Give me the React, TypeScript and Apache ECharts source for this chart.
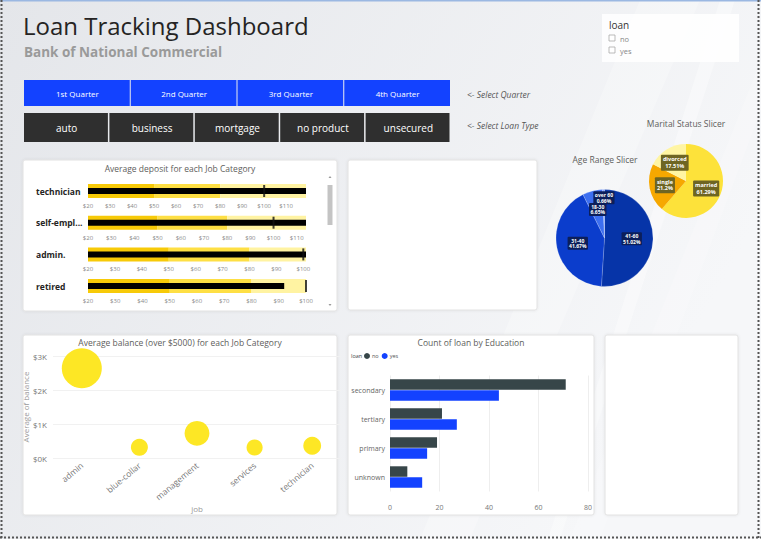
import React, { useEffect, useRef } from 'react';
import * as echarts from 'echarts';

const FONT = "'Open Sans', 'Noto Sans', sans-serif";

const quarters = ['1st Quarter', '2nd Quarter', '3rd Quarter', '4th Quarter'];
const loanTypes = ['auto', 'business', 'mortgage', 'no product', 'unsecured'];
const loanOptions = ['no', 'yes'];

// bullet chart: average deposit per job
const bulletJobs = ['technician', 'self-employed', 'admin.', 'retired'];
const depositActual = [119, 114, 101, 92];
const depositTarget = [100, 100, 100, 100];
const depositBands = [50, 80];

const ageRanges = ['41-60', '31-40', '18-30', 'over 60'];
const agePercent = [51.02, 41.67, 6.65, 0.66];

const maritalStatus = ['married', 'single', 'divorced'];
const maritalPercent = [61.29, 21.2, 17.51];

const balanceJobs = ['admin', 'blue-collar', 'management', 'services', 'technician'];
const avgBalance = [2640, 315, 725, 310, 360];
const balanceCount = [160, 29, 62, 26, 32];

const educations = ['secondary', 'tertiary', 'primary', 'unknown'];
const loanNo = [71, 21, 19, 7];
const loanYes = [44, 27, 15, 13];

const BLUE = '#1342ff';
const ageColors = ['#0634a8', '#0b3dcc', '#3d6ff0', '#86a5ff'];
const maritalColors = ['#fde23a', '#f6a800', '#fff5a3'];

function panel(x: number, y: number, w: number, h: number) {
  return {
    type: 'rect',
    shape: { x, y, width: w, height: h, r: 2 },
    style: { fill: '#ffffff', stroke: '#e2e2e2', lineWidth: 1, shadowBlur: 3, shadowColor: 'rgba(0,0,0,0.08)' },
  };
}

function label(text: string, x: number, y: number, extra: any = {}) {
  return {
    type: 'text',
    x,
    y,
    style: {
      text,
      fontFamily: FONT,
      fontSize: 8.5,
      fill: '#605e5c',
      textAlign: 'center',
      textVerticalAlign: 'middle',
      ...extra,
    },
  };
}

function buildGraphics() {
  const g: any[] = [];
  g.push({
    type: 'rect',
    shape: { x: 0, y: 0, width: 761, height: 539 },
    style: {
      fill: {
        type: 'linear', x: 0, y: 0, x2: 1, y2: 0.4,
        colorStops: [{ offset: 0, color: '#e4e6ea' }, { offset: 1, color: '#f6f7f9' }],
      },
    },
  });
  // faint diagonal streaks
  g.push({ type: 'polygon', shape: { points: [[640, 0], [700, 0], [470, 539], [420, 539]] }, style: { fill: 'rgba(255,255,255,0.25)' } });
  g.push({ type: 'polygon', shape: { points: [[720, 0], [735, 0], [560, 539], [548, 539]] }, style: { fill: 'rgba(255,255,255,0.35)' } });
  g.push({ type: 'polygon', shape: { points: [[761, 60], [761, 110], [600, 539], [570, 539]] }, style: { fill: 'rgba(255,255,255,0.2)' } });

  // borders
  g.push({ type: 'line', shape: { x1: 0, y1: 0.75, x2: 761, y2: 0.75 }, style: { stroke: '#9bb8e2', lineWidth: 1.5 } });
  g.push({ type: 'line', shape: { x1: 1.5, y1: 0, x2: 1.5, y2: 539 }, style: { stroke: '#555', lineWidth: 2, lineDash: [2, 2] } });
  g.push({ type: 'line', shape: { x1: 758.5, y1: 0, x2: 758.5, y2: 539 }, style: { stroke: '#555', lineWidth: 2, lineDash: [2, 2] } });
  g.push({ type: 'line', shape: { x1: 0, y1: 537.5, x2: 761, y2: 537.5 }, style: { stroke: '#555', lineWidth: 2, lineDash: [2, 2] } });

  // title
  g.push(label('Loan Tracking Dashboard', 23, 25.5, { fontSize: 24, lineHeight: 26, fill: '#252423', textAlign: 'left' }));
  g.push(label('Bank of National Commercial', 24, 51.5, { fontSize: 13.5, lineHeight: 14, fontWeight: 'bold', fill: '#9a9a9a', textAlign: 'left' }));

  // quarter buttons
  const qw = (451 - 24) / quarters.length;
  quarters.forEach((q, i) => {
    g.push({ type: 'rect', shape: { x: 24 + i * qw, y: 80, width: qw - 1, height: 26 }, style: { fill: BLUE } });
    g.push(label(q, 24 + i * qw + qw / 2, 93, { fontSize: 8, fill: '#ffffff' }));
  });
  const lw = (451 - 24) / loanTypes.length;
  loanTypes.forEach((t, i) => {
    g.push({ type: 'rect', shape: { x: 24 + i * lw, y: 113, width: lw - 1.5, height: 29 }, style: { fill: '#2f2f2f' } });
    g.push(label(t, 24 + i * lw + lw / 2, 128, { fontSize: 10, fill: '#ffffff' }));
  });
  g.push(label('<- Select Quarter', 467, 94, { fontSize: 8.5, fontStyle: 'italic', fill: '#555', textAlign: 'left' }));
  g.push(label('<- Select Loan Type', 467, 125, { fontSize: 8.5, fontStyle: 'italic', fill: '#555', textAlign: 'left' }));

  // loan slicer
  g.push({ type: 'rect', shape: { x: 602, y: 14, width: 137, height: 48 }, style: { fill: 'rgba(255,255,255,0.85)' } });
  g.push(label('loan', 609, 25, { fontSize: 10, fill: '#333', textAlign: 'left' }));
  loanOptions.forEach((o, i) => {
    g.push({ type: 'rect', shape: { x: 609, y: 35 + i * 12, width: 6, height: 6 }, style: { fill: '#fff', stroke: '#aaa', lineWidth: 0.8 } });
    g.push(label(o, 620, 38.5 + i * 12, { fontSize: 7.5, fill: '#888', textAlign: 'left' }));
  });

  // panels
  g.push(panel(23, 160, 314, 151));
  g.push(panel(348, 160, 189, 150));
  g.push(panel(23, 335, 314, 180));
  g.push(panel(348, 335, 246, 180));
  g.push(panel(605, 335, 133, 180));

  // bullet scrollbar
  g.push({ type: 'rect', shape: { x: 327.5, y: 185, width: 5, height: 40 }, style: { fill: '#c4c4c4' } });
  g.push({ type: 'polygon', shape: { points: [[328.5, 178], [331.5, 178], [330, 176]] }, style: { fill: '#999' } });
  g.push({ type: 'polygon', shape: { points: [[328.5, 304], [331.5, 304], [330, 306]] }, style: { fill: '#999' } });

  // panel titles
  g.push(label('Average deposit for each Job Category', 180, 168));
  g.push(label('Age Range Slicer', 605, 159));
  g.push(label('Marital Status Slicer', 686, 123));
  g.push(label('Average balance (over $5000) for each Job Category', 180, 342));
  g.push(label('Count of loan by Education', 471, 342));
  g.push(label('loan', 351, 356, { fontSize: 5.5, fill: '#444', textAlign: 'left' }));
  return g;
}

function buildOption() {
  const grid: any[] = [];
  const xAxis: any[] = [];
  const yAxis: any[] = [];
  const series: any[] = [];

  bulletJobs.forEach((job, i) => {
    const max = Math.max(depositActual[i], depositTarget[i]);
    grid.push({ left: 88, top: 184 + i * 31.7, width: 218, height: 14 });
    xAxis.push({
      gridIndex: i,
      type: 'value',
      min: 20,
      max,
      interval: 10,
      startValue: 20,
      axisLine: { show: false },
      axisTick: { show: false },
      splitLine: { show: false },
      axisLabel: {
        fontSize: 6,
        color: '#8a8a8a',
        margin: 5,
        formatter: (v: number) => '$' + v,
        showMaxLabel: max % 10 === 0,
      },
    });
    yAxis.push({
      gridIndex: i,
      type: 'category',
      data: [job],
      axisLine: { show: false },
      axisTick: { show: false },
      axisLabel: {
        align: 'left',
        margin: 52,
        fontSize: 8.5,
        fontWeight: 'bold',
        color: '#252423',
        formatter: (v: string) => (v.length > 10 ? v.slice(0, 9) + '...' : v),
      },
    });
    yAxis.push({ gridIndex: i, type: 'category', data: [job], show: false });
    const bands = [depositBands[0], depositBands[1] - depositBands[0], max - depositBands[1]];
    const bandColors = ['#f7ca08', '#fedf44', '#fff3a2'];
    bands.forEach((b, k) => {
      series.push({
        type: 'bar',
        xAxisIndex: i,
        yAxisIndex: i * 2,
        stack: 'range' + i,
        barWidth: 14,
        data: [b],
        clip: true,
        itemStyle: { color: bandColors[k] },
        silent: true,
      });
    });
    series.push({
      type: 'bar',
      xAxisIndex: i,
      yAxisIndex: i * 2 + 1,
      barWidth: 6,
      data: [depositActual[i]],
      clip: true,
      itemStyle: { color: '#000' },
      z: 3,
      silent: true,
    });
    series.push({
      type: 'scatter',
      xAxisIndex: i,
      yAxisIndex: i * 2,
      symbol: 'rect',
      symbolSize: [2, 12],
      data: [[depositTarget[i], 0]],
      itemStyle: { color: '#111' },
      z: 4,
      silent: true,
    });
  });

  // bubble chart
  grid.push({ left: 53, top: 356, width: 288, height: 102 });
  xAxis.push({
    gridIndex: 4,
    type: 'category',
    data: balanceJobs,
    boundaryGap: true,
    axisLine: { show: false },
    axisTick: { show: false },
    axisLabel: { rotate: 40, fontSize: 8.5, color: '#777', margin: 6, interval: 0 },
    name: 'job',
    nameLocation: 'middle',
    nameGap: 46,
    nameTextStyle: { fontSize: 8, color: '#999' },
  });
  yAxis.push({
    gridIndex: 4,
    type: 'value',
    min: 0,
    max: 3000,
    interval: 1000,
    axisLine: { show: false },
    axisTick: { show: false },
    splitLine: { lineStyle: { color: '#f1f1f1' } },
    axisLabel: { fontSize: 8, color: '#777', margin: 6, formatter: (v: number) => '$' + v / 1000 + 'K' },
    name: 'Average of balance',
    nameLocation: 'middle',
    nameGap: 24,
    nameTextStyle: { fontSize: 8, color: '#999' },
  });
  series.push({
    type: 'scatter',
    xAxisIndex: 4,
    yAxisIndex: 8,
    clip: true,
    data: avgBalance.map((v, i) => ({ value: [i, v], symbolSize: Math.sqrt(balanceCount[i]) * 3.16 })),
    itemStyle: { color: '#fde725', opacity: 1 },
    silent: true,
  });

  // loan by education
  grid.push({ left: 390, top: 375.5, width: 198, height: 116 });
  xAxis.push({
    gridIndex: 5,
    type: 'value',
    min: 0,
    max: 80,
    interval: 20,
    axisLine: { show: false },
    axisTick: { show: false },
    splitLine: { lineStyle: { color: '#eeeeee' } },
    axisLabel: { fontSize: 7, color: '#777', margin: 12 },
  });
  yAxis.push({
    gridIndex: 5,
    type: 'category',
    inverse: true,
    data: educations,
    axisLine: { show: false },
    axisTick: { show: false },
    axisLabel: { fontSize: 7, color: '#666', margin: 5 },
  });
  series.push({
    name: 'no',
    type: 'bar',
    xAxisIndex: 5,
    yAxisIndex: 9,
    barWidth: 10.5,
    barGap: '4%',
    data: loanNo,
    itemStyle: { color: '#374649' },
    silent: true,
  });
  series.push({
    name: 'yes',
    type: 'bar',
    xAxisIndex: 5,
    yAxisIndex: 9,
    barWidth: 10.5,
    barGap: '4%',
    data: loanYes,
    itemStyle: { color: BLUE },
    silent: true,
  });

  // pies
  series.push({
    type: 'pie',
    center: [604.5, 238],
    radius: 48.5,
    startAngle: 90,
    clockwise: true,
    silent: true,
    data: ageRanges.map((n, i) => ({ name: n, value: agePercent[i], itemStyle: { color: ageColors[i] } })),
    itemStyle: { borderColor: 'rgba(255,255,255,0.35)', borderWidth: 0.5 },
    label: {
      position: 'inside',
      formatter: '{b}\n{d}%',
      color: '#fff',
      fontSize: 5,
      fontWeight: 'bold',
      lineHeight: 5.5,
      backgroundColor: '#0c1f5a',
      padding: [1, 1.5],
      borderRadius: 1,
    },
    labelLayout: (p: any) => (p.dataIndex === 3 ? { dy: -13 } : p.dataIndex === 2 ? { dy: -2 } : {}),
  });
  series.push({
    type: 'pie',
    center: [686, 181],
    radius: 37,
    startAngle: 90,
    clockwise: true,
    silent: true,
    data: maritalStatus.map((n, i) => ({ name: n, value: maritalPercent[i], itemStyle: { color: maritalColors[i] } })),
    label: {
      position: 'inside',
      formatter: '{b}\n{d}%',
      color: '#fff',
      fontSize: 5.5,
      fontWeight: 'bold',
      lineHeight: 6.5,
      backgroundColor: '#6e6523',
      padding: [1.5, 2],
      borderRadius: 1,
    },
  });

  return {
    animation: false,
    textStyle: { fontFamily: FONT },
    graphic: { elements: buildGraphics() },
    legend: {
      data: ['no', 'yes'],
      left: 364,
      top: 353,
      padding: 0,
      icon: 'circle',
      itemWidth: 6,
      itemHeight: 6,
      itemGap: 3,
      textStyle: { fontSize: 5.5, color: '#555', padding: [0, 0, 0, -3] },
      selectedMode: false,
    },
    grid,
    xAxis,
    yAxis,
    series,
  };
}

export default function App() {
  const ref = useRef<HTMLDivElement>(null);

  useEffect(() => {
    if (!ref.current) return;
    const chart = echarts.init(ref.current, undefined, { renderer: 'svg' });
    chart.setOption(buildOption() as any);
    return () => chart.dispose();
  }, []);

  return <div ref={ref} style={{ position: 'absolute', left: 0, top: 0, width: 761, height: 539 }} />;
}
